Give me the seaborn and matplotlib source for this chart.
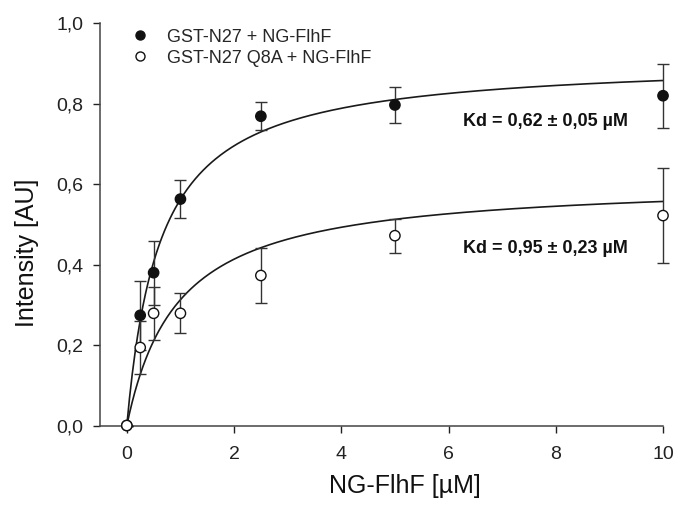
import numpy as np
import pandas as pd
import matplotlib
matplotlib.use("Agg")
import matplotlib.pyplot as plt
from matplotlib.lines import Line2D
import seaborn as sns

# concentrations of NG-FlhF (uM)
conc = [0, 0.25, 0.5, 1, 2.5, 5, 10]

# GST-N27 + NG-FlhF (filled)
wt_mean = [0.0, 0.274, 0.380, 0.563, 0.769, 0.797, 0.820]
wt_err = [0.0, 0.085, 0.080, 0.048, 0.035, 0.045, 0.080]

# GST-N27 Q8A + NG-FlhF (open)
q8a_mean = [0.0, 0.194, 0.279, 0.279, 0.373, 0.472, 0.522]
q8a_err = [0.0, 0.065, 0.066, 0.050, 0.069, 0.042, 0.119]

# one-site binding fit parameters
wt_kd, wt_bmax = 0.62, 0.911
q8a_kd, q8a_bmax = 0.95, 0.610

labels = ["GST-N27 + NG-FlhF", "GST-N27 Q8A + NG-FlhF"]
kd_texts = ["Kd = 0,62 \u00b1 0,05 \u00b5M", "Kd = 0,95 \u00b1 0,23 \u00b5M"]

df = pd.DataFrame({
    "conc": conc * 2,
    "mean": wt_mean + q8a_mean,
    "err": wt_err + q8a_err,
    "sample": [labels[0]] * len(conc) + [labels[1]] * len(conc),
})

xfit = np.linspace(0, 10, 400)
fit = pd.DataFrame({
    "conc": np.concatenate([xfit, xfit]),
    "fit": np.concatenate([wt_bmax * xfit / (wt_kd + xfit),
                           q8a_bmax * xfit / (q8a_kd + xfit)]),
    "sample": [labels[0]] * len(xfit) + [labels[1]] * len(xfit),
})

sns.set_theme(style="ticks")
plt.rcParams["font.family"] = ["Liberation Sans", "DejaVu Sans"]

fig = plt.figure(figsize=(6.78, 5.07), dpi=100)
ax = fig.add_axes([0.1475, 0.1607, 0.8304, 0.7933])

# fit curves
sns.lineplot(data=fit, x="conc", y="fit", units="sample", estimator=None,
             color="#1a1a1a", linewidth=1.2, ax=ax, legend=False, zorder=2)

# error bars
for name in labels:
    sub = df[df["sample"] == name]
    ax.errorbar(sub["conc"], sub["mean"], yerr=sub["err"], fmt="none",
                ecolor="#333333", elinewidth=1.0, capsize=4, capthick=1.0,
                zorder=3, clip_on=False)

# data points
sns.scatterplot(data=df, x="conc", y="mean", hue="sample",
                palette={labels[0]: "#111111", labels[1]: "white"},
                edgecolor="#111111", linewidth=1.0, s=55, ax=ax,
                legend=False, zorder=4, clip_on=False)

ax.set_xlim(-0.5, 10)
ax.set_ylim(0, 1.0)
ax.set_xticks([0, 2, 4, 6, 8, 10])
ax.set_yticks([0, 0.2, 0.4, 0.6, 0.8, 1.0])
ax.set_yticklabels(["0,0", "0,2", "0,4", "0,6", "0,8", "1,0"])
ax.tick_params(axis="both", labelsize=14, length=5, width=1.0,
               colors="#222222", direction="out", pad=7)
ax.tick_params(axis="x", pad=10)

sns.despine(ax=ax)
for side in ["left", "bottom"]:
    ax.spines[side].set_color("#444444")
    ax.spines[side].set_linewidth(1.1)

ax.set_xlabel("NG-FlhF [\u00b5M]", fontsize=18, color="#111111", va="center")
ax.xaxis.set_label_coords(0.542, -0.150)
ax.set_ylabel("Intensity [AU]", fontsize=18, color="#111111", va="center")
ax.yaxis.set_label_coords(-0.13, 0.43)

ax.text(9.35, 0.756, kd_texts[0], ha="right", va="center",
        fontsize=13, fontweight="bold", color="#111111")
ax.text(9.35, 0.439, kd_texts[1], ha="right", va="center",
        fontsize=13, fontweight="bold", color="#111111")

handles = [
    Line2D([], [], marker="o", linestyle="none", markersize=6.5,
           markerfacecolor="#111111", markeredgecolor="#111111"),
    Line2D([], [], marker="o", linestyle="none", markersize=6.5,
           markerfacecolor="white", markeredgecolor="#111111"),
]
ax.legend(handles, labels, loc="upper left", bbox_to_anchor=(0.035, 1.005),
          frameon=False, fontsize=13, handletextpad=0.7, labelspacing=0.22,
          borderaxespad=0, handlelength=1.5)

fig.savefig("out.png", dpi=100)
